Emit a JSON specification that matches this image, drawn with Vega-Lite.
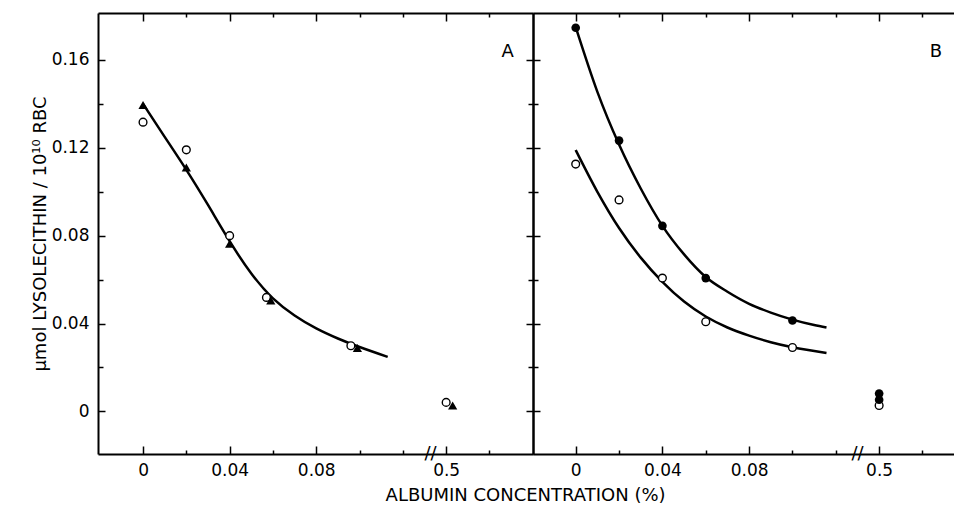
{
  "$schema": "https://vega.github.io/schema/vega-lite/v6.json",
  "background": "white",
  "padding": {"left": 31, "top": 12, "right": 0, "bottom": 4},
  "datasets": {
    "pts": [
      {"panel": "A", "series": "tri", "conc": 0, "val": 0.1395},
      {"panel": "A", "series": "tri", "conc": 0.02, "val": 0.111},
      {"panel": "A", "series": "tri", "conc": 0.04, "val": 0.0763},
      {"panel": "A", "series": "tri", "conc": 0.059, "val": 0.0505},
      {"panel": "A", "series": "tri", "conc": 0.099, "val": 0.0289},
      {"panel": "A", "series": "tri", "conc": 0.503, "val": 0.0027},
      {"panel": "A", "series": "open", "conc": 0, "val": 0.1317},
      {"panel": "A", "series": "open", "conc": 0.02, "val": 0.1191},
      {"panel": "A", "series": "open", "conc": 0.04, "val": 0.08},
      {"panel": "A", "series": "open", "conc": 0.057, "val": 0.0519},
      {"panel": "A", "series": "open", "conc": 0.096, "val": 0.0299},
      {"panel": "A", "series": "open", "conc": 0.5, "val": 0.0041},
      {"panel": "B", "series": "filled", "conc": 0, "val": 0.1747},
      {"panel": "B", "series": "filled", "conc": 0.02, "val": 0.1233},
      {"panel": "B", "series": "filled", "conc": 0.04, "val": 0.0845},
      {"panel": "B", "series": "filled", "conc": 0.06, "val": 0.0607},
      {"panel": "B", "series": "filled", "conc": 0.1, "val": 0.0414},
      {"panel": "B", "series": "filled", "conc": 0.5, "val": 0.0081},
      {"panel": "B", "series": "filled", "conc": 0.5, "val": 0.0053},
      {"panel": "B", "series": "open", "conc": 0, "val": 0.1126},
      {"panel": "B", "series": "open", "conc": 0.02, "val": 0.0963},
      {"panel": "B", "series": "open", "conc": 0.04, "val": 0.0607},
      {"panel": "B", "series": "open", "conc": 0.06, "val": 0.0408},
      {"panel": "B", "series": "open", "conc": 0.1, "val": 0.0291},
      {"panel": "B", "series": "open", "conc": 0.5, "val": 0.0027}
    ],
    "curves": [
      {"panel": "A", "curve": "a", "conc": 0, "val": 0.14},
      {"panel": "A", "curve": "a", "conc": 0.01, "val": 0.125},
      {"panel": "A", "curve": "a", "conc": 0.02, "val": 0.11},
      {"panel": "A", "curve": "a", "conc": 0.03, "val": 0.094},
      {"panel": "A", "curve": "a", "conc": 0.04, "val": 0.0775},
      {"panel": "A", "curve": "a", "conc": 0.05, "val": 0.0628},
      {"panel": "A", "curve": "a", "conc": 0.06, "val": 0.0515},
      {"panel": "A", "curve": "a", "conc": 0.07, "val": 0.0437},
      {"panel": "A", "curve": "a", "conc": 0.08, "val": 0.0378},
      {"panel": "A", "curve": "a", "conc": 0.09, "val": 0.0332},
      {"panel": "A", "curve": "a", "conc": 0.1, "val": 0.0293},
      {"panel": "A", "curve": "a", "conc": 0.113, "val": 0.0248},
      {"panel": "B", "curve": "upper", "conc": 0, "val": 0.175},
      {"panel": "B", "curve": "upper", "conc": 0.01, "val": 0.1455},
      {"panel": "B", "curve": "upper", "conc": 0.02, "val": 0.1215},
      {"panel": "B", "curve": "upper", "conc": 0.03, "val": 0.1015},
      {"panel": "B", "curve": "upper", "conc": 0.04, "val": 0.0845},
      {"panel": "B", "curve": "upper", "conc": 0.05, "val": 0.0715},
      {"panel": "B", "curve": "upper", "conc": 0.06, "val": 0.0612},
      {"panel": "B", "curve": "upper", "conc": 0.07, "val": 0.0545},
      {"panel": "B", "curve": "upper", "conc": 0.08, "val": 0.049},
      {"panel": "B", "curve": "upper", "conc": 0.09, "val": 0.045},
      {"panel": "B", "curve": "upper", "conc": 0.1, "val": 0.0418},
      {"panel": "B", "curve": "upper", "conc": 0.11, "val": 0.0393},
      {"panel": "B", "curve": "upper", "conc": 0.1157, "val": 0.0382},
      {"panel": "B", "curve": "lower", "conc": 0, "val": 0.119},
      {"panel": "B", "curve": "lower", "conc": 0.01, "val": 0.1},
      {"panel": "B", "curve": "lower", "conc": 0.02, "val": 0.0835},
      {"panel": "B", "curve": "lower", "conc": 0.03, "val": 0.07},
      {"panel": "B", "curve": "lower", "conc": 0.04, "val": 0.059},
      {"panel": "B", "curve": "lower", "conc": 0.05, "val": 0.05},
      {"panel": "B", "curve": "lower", "conc": 0.06, "val": 0.0432},
      {"panel": "B", "curve": "lower", "conc": 0.07, "val": 0.0382},
      {"panel": "B", "curve": "lower", "conc": 0.08, "val": 0.0345},
      {"panel": "B", "curve": "lower", "conc": 0.09, "val": 0.0315},
      {"panel": "B", "curve": "lower", "conc": 0.1, "val": 0.0292},
      {"panel": "B", "curve": "lower", "conc": 0.1157, "val": 0.0266}
    ]
  },
  "title": {"text": "ALBUMIN CONCENTRATION (%)", "orient": "bottom", "anchor": "middle", "frame": "bounds", "dx": 33, "offset": 9, "font": "DejaVu Sans", "fontSize": 18, "fontWeight": "normal", "color": "black"},
  "spacing": 0,
  "bounds": "flush",
  "hconcat": [
    {
      "width": 435,
      "height": 441,
      "layer": [
        {
          "data": {"name": "pts"},
          "transform": [{"filter": "datum.panel === 'A'"}],
          "mark": {"type": "point", "opacity": 0},
          "encoding": {
            "x": {"field": "conc", "type": "quantitative",
              "scale": {"type": "linear", "domain": [-0.0208, 0.13, 0.49, 0.5401], "range": [0, 326.5, 326.5, 435], "nice": false, "zero": false},
              "axis": {"orient": "bottom", "title": null, "values": [0, 0.02, 0.04, 0.06, 0.08, 0.1, 0.12, 0.5, 0.52],
                "labelExpr": "indexof([0,0.04,0.08,0.5], datum.value) >= 0 ? (datum.value === 0 ? '0' : '' + datum.value) : ''",
                "tickSize": {"condition": {"test": "indexof([0,0.04,0.08,0.5], datum.value) >= 0", "value": -8}, "value": -4},
                "labelPadding": 16}},
            "y": {"field": "val", "type": "quantitative",
              "scale": {"domain": [-0.0194, 0.1814], "nice": false, "zero": false},
              "axis": {"orient": "left", "title": "μmol LYSOLECITHIN / 10¹⁰ RBC", "titlePadding": 2, "values": [0, 0.02, 0.04, 0.06, 0.08, 0.1, 0.12, 0.14, 0.16],
                "labelExpr": "indexof([0,0.04,0.08,0.12,0.16], datum.value) >= 0 ? (datum.value === 0 ? '0' : '' + datum.value) : ''",
                "tickSize": {"condition": {"test": "indexof([0,0.04,0.08,0.12,0.16], datum.value) >= 0", "value": -7}, "value": -5},
                "labelPadding": 16}}
          }
        },
        {
          "data": {"name": "pts"},
          "transform": [{"filter": "datum.panel === 'A'"}],
          "mark": {"type": "point", "opacity": 0},
          "encoding": {
            "x": {"field": "conc", "type": "quantitative",
              "scale": {"type": "linear", "domain": [-0.0208, 0.13, 0.49, 0.5401], "range": [0, 326.5, 326.5, 435], "nice": false, "zero": false},
              "axis": {"orient": "top", "title": null, "labels": false, "values": [0, 0.02, 0.04, 0.06, 0.08, 0.1, 0.12, 0.5, 0.52],
                "tickSize": {"condition": {"test": "indexof([0,0.04,0.08,0.5], datum.value) >= 0", "value": -8}, "value": -4}}},
            "y": {"field": "val", "type": "quantitative",
              "scale": {"domain": [-0.0194, 0.1814], "nice": false, "zero": false},
              "axis": {"orient": "right", "title": null, "labels": false, "values": [0, 0.02, 0.04, 0.06, 0.08, 0.1, 0.12, 0.14, 0.16],
                "tickSize": {"condition": {"test": "indexof([0,0.04,0.08,0.12,0.16], datum.value) >= 0", "value": -7}, "value": -5}}}
          }
        },
        {
          "data": {"name": "curves"},
          "transform": [{"filter": "datum.panel === 'A'"}],
          "mark": {"type": "line", "interpolate": "natural", "color": "black", "strokeWidth": 2.5},
          "encoding": {
            "x": {"field": "conc", "type": "quantitative", "scale": {"type": "linear", "domain": [-0.0208, 0.13, 0.49, 0.5401], "range": [0, 326.5, 326.5, 435], "nice": false, "zero": false}, "axis": null},
            "y": {"field": "val", "type": "quantitative", "scale": {"domain": [-0.0194, 0.1814], "nice": false, "zero": false}, "axis": null},
            "detail": {"field": "curve"}
          }
        },
        {
          "data": {"name": "pts"},
          "transform": [{"filter": "datum.panel === 'A' && datum.series === 'open'"}],
          "mark": {"type": "point", "shape": "circle", "filled": true, "fill": "white", "stroke": "black", "strokeWidth": 1.4, "size": 60, "opacity": 1},
          "encoding": {
            "x": {"field": "conc", "type": "quantitative", "scale": {"type": "linear", "domain": [-0.0208, 0.13, 0.49, 0.5401], "range": [0, 326.5, 326.5, 435], "nice": false, "zero": false}, "axis": null},
            "y": {"field": "val", "type": "quantitative", "scale": {"domain": [-0.0194, 0.1814], "nice": false, "zero": false}, "axis": null}
          }
        },
        {
          "data": {"name": "pts"},
          "transform": [{"filter": "datum.panel === 'A' && datum.series === 'tri'"}],
          "mark": {"type": "point", "shape": "triangle-up", "filled": true, "color": "black", "size": 85, "opacity": 1},
          "encoding": {
            "x": {"field": "conc", "type": "quantitative", "scale": {"type": "linear", "domain": [-0.0208, 0.13, 0.49, 0.5401], "range": [0, 326.5, 326.5, 435], "nice": false, "zero": false}, "axis": null},
            "y": {"field": "val", "type": "quantitative", "scale": {"domain": [-0.0194, 0.1814], "nice": false, "zero": false}, "axis": null}
          }
        },
        {
          "data": {"values": [{"label": "A"}]},
          "mark": {"type": "text", "font": "DejaVu Sans", "fontSize": 18, "color": "black"},
          "encoding": {
            "x": {"datum": 0.5284, "type": "quantitative", "scale": {"type": "linear", "domain": [-0.0208, 0.13, 0.49, 0.5401], "range": [0, 326.5, 326.5, 435], "nice": false, "zero": false}, "axis": null},
            "y": {"datum": 0.1638, "type": "quantitative", "scale": {"domain": [-0.0194, 0.1814], "nice": false, "zero": false}, "axis": null},
            "text": {"field": "label"}
          }
        },
        {
          "data": {"values": [{"label": "//"}]},
          "mark": {"type": "text", "font": "DejaVu Sans", "fontSize": 18, "color": "black", "dx": 6},
          "encoding": {
            "x": {"datum": 0.13, "type": "quantitative", "scale": {"type": "linear", "domain": [-0.0208, 0.13, 0.49, 0.5401], "range": [0, 326.5, 326.5, 435], "nice": false, "zero": false}, "axis": null},
            "y": {"datum": -0.0194, "type": "quantitative", "scale": {"domain": [-0.0194, 0.1814], "nice": false, "zero": false}, "axis": null},
            "text": {"field": "label"}
          }
        }
      ],
      "resolve": {"axis": {"x": "independent", "y": "independent"}}
    },
    {
      "width": 421,
      "height": 441,
      "layer": [
        {
          "data": {"name": "pts"},
          "transform": [{"filter": "datum.panel === 'B'"}],
          "mark": {"type": "point", "opacity": 0},
          "encoding": {
            "x": {"field": "conc", "type": "quantitative",
              "scale": {"type": "linear", "domain": [-0.0197, 0.13, 0.49, 0.5346], "range": [0, 324.5, 324.5, 421], "nice": false, "zero": false},
              "axis": {"orient": "bottom", "title": null, "values": [0, 0.02, 0.04, 0.06, 0.08, 0.1, 0.12, 0.5, 0.52],
                "labelExpr": "indexof([0,0.04,0.08,0.5], datum.value) >= 0 ? (datum.value === 0 ? '0' : '' + datum.value) : ''",
                "tickSize": {"condition": {"test": "indexof([0,0.04,0.08,0.5], datum.value) >= 0", "value": -8}, "value": -4},
                "labelPadding": 16}},
            "y": {"field": "val", "type": "quantitative",
              "scale": {"domain": [-0.0194, 0.1814], "nice": false, "zero": false},
              "axis": {"orient": "left", "title": null, "labels": false, "values": [0, 0.02, 0.04, 0.06, 0.08, 0.1, 0.12, 0.14, 0.16],
                "tickSize": {"condition": {"test": "indexof([0,0.04,0.08,0.12,0.16], datum.value) >= 0", "value": -7}, "value": -5}}}
          }
        },
        {
          "data": {"name": "pts"},
          "transform": [{"filter": "datum.panel === 'B'"}],
          "mark": {"type": "point", "opacity": 0},
          "encoding": {
            "x": {"field": "conc", "type": "quantitative",
              "scale": {"type": "linear", "domain": [-0.0197, 0.13, 0.49, 0.5346], "range": [0, 324.5, 324.5, 421], "nice": false, "zero": false},
              "axis": {"orient": "top", "title": null, "labels": false, "values": [0, 0.02, 0.04, 0.06, 0.08, 0.1, 0.12, 0.5, 0.52],
                "tickSize": {"condition": {"test": "indexof([0,0.04,0.08,0.5], datum.value) >= 0", "value": -8}, "value": -4}}},
            "y": {"field": "val", "type": "quantitative", "scale": {"domain": [-0.0194, 0.1814], "nice": false, "zero": false}, "axis": null}
          }
        },
        {
          "data": {"name": "curves"},
          "transform": [{"filter": "datum.panel === 'B'"}],
          "mark": {"type": "line", "interpolate": "monotone", "color": "black", "strokeWidth": 2.5},
          "encoding": {
            "x": {"field": "conc", "type": "quantitative", "scale": {"type": "linear", "domain": [-0.0197, 0.13, 0.49, 0.5346], "range": [0, 324.5, 324.5, 421], "nice": false, "zero": false}, "axis": null},
            "y": {"field": "val", "type": "quantitative", "scale": {"domain": [-0.0194, 0.1814], "nice": false, "zero": false}, "axis": null},
            "detail": {"field": "curve"}
          }
        },
        {
          "data": {"name": "pts"},
          "transform": [{"filter": "datum.panel === 'B' && datum.series === 'open'"}],
          "mark": {"type": "point", "shape": "circle", "filled": true, "fill": "white", "stroke": "black", "strokeWidth": 1.4, "size": 60, "opacity": 1},
          "encoding": {
            "x": {"field": "conc", "type": "quantitative", "scale": {"type": "linear", "domain": [-0.0197, 0.13, 0.49, 0.5346], "range": [0, 324.5, 324.5, 421], "nice": false, "zero": false}, "axis": null},
            "y": {"field": "val", "type": "quantitative", "scale": {"domain": [-0.0194, 0.1814], "nice": false, "zero": false}, "axis": null}
          }
        },
        {
          "data": {"name": "pts"},
          "transform": [{"filter": "datum.panel === 'B' && datum.series === 'filled'"}],
          "mark": {"type": "point", "shape": "circle", "filled": true, "color": "black", "size": 75, "opacity": 1},
          "encoding": {
            "x": {"field": "conc", "type": "quantitative", "scale": {"type": "linear", "domain": [-0.0197, 0.13, 0.49, 0.5346], "range": [0, 324.5, 324.5, 421], "nice": false, "zero": false}, "axis": null},
            "y": {"field": "val", "type": "quantitative", "scale": {"domain": [-0.0194, 0.1814], "nice": false, "zero": false}, "axis": null}
          }
        },
        {
          "data": {"values": [{"label": "B"}]},
          "mark": {"type": "text", "font": "DejaVu Sans", "fontSize": 18, "color": "black"},
          "encoding": {
            "x": {"datum": 0.5262, "type": "quantitative", "scale": {"type": "linear", "domain": [-0.0197, 0.13, 0.49, 0.5346], "range": [0, 324.5, 324.5, 421], "nice": false, "zero": false}, "axis": null},
            "y": {"datum": 0.1638, "type": "quantitative", "scale": {"domain": [-0.0194, 0.1814], "nice": false, "zero": false}, "axis": null},
            "text": {"field": "label"}
          }
        },
        {
          "data": {"values": [{"label": "//"}]},
          "mark": {"type": "text", "font": "DejaVu Sans", "fontSize": 18, "color": "black", "dx": 0},
          "encoding": {
            "x": {"datum": 0.13, "type": "quantitative", "scale": {"type": "linear", "domain": [-0.0197, 0.13, 0.49, 0.5346], "range": [0, 324.5, 324.5, 421], "nice": false, "zero": false}, "axis": null},
            "y": {"datum": -0.0194, "type": "quantitative", "scale": {"domain": [-0.0194, 0.1814], "nice": false, "zero": false}, "axis": null},
            "text": {"field": "label"}
          }
        }
      ],
      "resolve": {"axis": {"x": "independent", "y": "independent"}}
    }
  ],
  "config": {
    "view": {"stroke": null},
    "axis": {
      "grid": false,
      "domainColor": "black",
      "domainWidth": 2,
      "tickColor": "black",
      "tickWidth": 1.5,
      "labelColor": "black",
      "labelFont": "DejaVu Sans",
      "labelFontSize": 17,
      "titleFont": "DejaVu Sans",
      "titleFontSize": 18,
      "titleFontWeight": "normal",
      "titleColor": "black"
    }
  }
}
